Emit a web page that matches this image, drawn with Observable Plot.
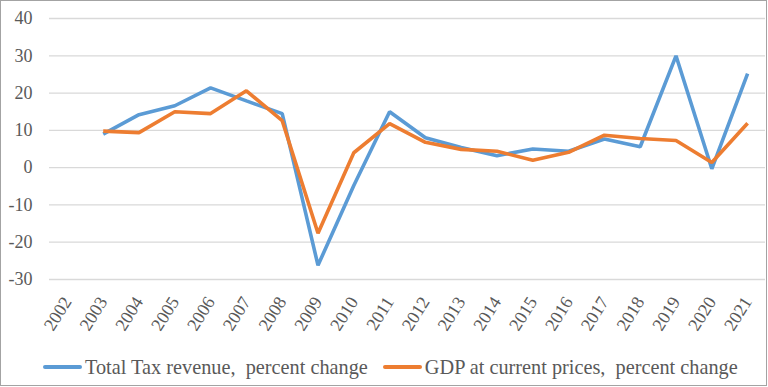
<!DOCTYPE html>
<html>
<head>
<meta charset="utf-8">
<script src="https://cdn.jsdelivr.net/npm/d3@7"></script>
<script src="https://cdn.jsdelivr.net/npm/@observablehq/plot@0.6"></script>
<style>
  html, body { margin: 0; padding: 0; background: #fff; }
  #wrap { position: relative; width: 768px; height: 387px; overflow: hidden; font-family: "Liberation Serif", "Times New Roman", serif; }
  #frame { position: absolute; left: 0; top: 0; width: 767px; height: 386px; box-sizing: border-box; border: 1.5px solid #a3a3a3; pointer-events: none; }
  #legend { position: absolute; left: 43px; top: 353px; height: 28px; display: flex; align-items: center; font-size: 20.3px; color: #595959; white-space: pre; }
  .sw { display: inline-block; width: 39px; height: 4px; border-radius: 2px; margin-right: 3px; }
  .item { display: flex; align-items: center; }
</style>
</head>
<body>
<div id="wrap">
  <div id="chart"></div>
  <div id="legend"></div>
  <div id="frame"></div>
</div>
<script>
const years = ["2002","2003","2004","2005","2006","2007","2008","2009","2010","2011","2012","2013","2014","2015","2016","2017","2018","2019","2020","2021"];
const taxRevenue = [null, 9.0, 14.2, 16.6, 21.4, 17.9, 14.5, -26.2, -4.8, 15.0, 8.0, 5.4, 3.2, 5.0, 4.4, 7.7, 5.6, 30.0, -0.3, 25.2];
const gdpChange = [null, 9.8, 9.4, 15.0, 14.5, 20.6, 12.6, -17.6, 4.0, 11.8, 6.8, 4.9, 4.4, 2.0, 4.1, 8.7, 7.8, 7.3, 1.4, 11.9];
const yTicks = [-30, -20, -10, 0, 10, 20, 30, 40];
const seriesNames = ["Total Tax revenue,  percent change", "GDP at current prices,  percent change"];
const seriesColors = ["#5B9BD5", "#ED7D31"];

const rows = [];
years.forEach((yr, i) => {
  if (taxRevenue[i] != null) rows.push({year: yr, value: taxRevenue[i], series: seriesNames[0]});
});
years.forEach((yr, i) => {
  if (gdpChange[i] != null) rows.push({year: yr, value: gdpChange[i], series: seriesNames[1]});
});

const chart = Plot.plot({
  width: 768,
  height: 340,
  marginLeft: 49,
  marginRight: 3,
  marginTop: 18,
  marginBottom: 61,
  style: {fontFamily: "'Liberation Serif', 'Times New Roman', serif", fontSize: "18px", color: "#595959", background: "transparent"},
  x: {type: "point", domain: years, padding: 0.5, round: false, label: null},
  y: {domain: [-30, 40], label: null},
  color: {domain: seriesNames, range: seriesColors},
  marks: [
    Plot.ruleY(yTicks, {stroke: "#d9d9d9", strokeWidth: 1.3}),
    Plot.axisY({ticks: yTicks, tickSize: 0, tickPadding: 17, fontSize: 18, label: null, tickFormat: d => String(d)}),
    Plot.axisX({tickSize: 0, tickPadding: 19, tickRotate: -58, fontSize: 18, label: null}),
    Plot.line(rows, {x: "year", y: "value", z: "series", stroke: "series", strokeWidth: 3.6, strokeLinejoin: "miter", strokeLinecap: "butt"})
  ]
});
document.getElementById("chart").appendChild(chart);

const legend = document.getElementById("legend");
seriesNames.forEach((name, i) => {
  const item = document.createElement("div");
  item.className = "item";
  if (i > 0) item.style.marginLeft = "15px";
  const sw = document.createElement("span");
  sw.className = "sw";
  sw.style.background = seriesColors[i];
  const t = document.createElement("span");
  t.textContent = name;
  item.appendChild(sw);
  item.appendChild(t);
  legend.appendChild(item);
});
</script>
</body>
</html>
